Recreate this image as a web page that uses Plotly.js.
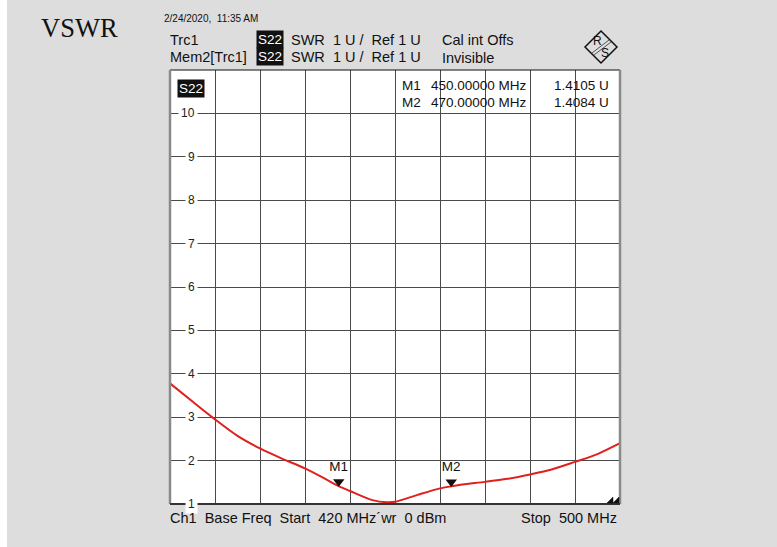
<!DOCTYPE html>
<html>
<head>
<meta charset="utf-8">
<script src="https://cdn.plot.ly/plotly-3.0.1.min.js"></script>
<style>
  html, body { margin: 0; padding: 0; background: #dddddd; }
  #chart { width: 777px; height: 547px; }
</style>
</head>
<body>
<div id="chart"></div>
<script>
// ---- Data ----
const freqMHz = [420, 424, 428, 432, 436, 440, 444, 448, 450, 452, 456, 458.5, 460, 464, 468, 470, 472, 476, 480, 484, 488, 492, 496, 500];
const vswr    = [3.78, 3.36, 2.95, 2.57, 2.28, 2.04, 1.82, 1.55, 1.41, 1.30, 1.09, 1.04, 1.05, 1.21, 1.36, 1.408, 1.45, 1.51, 1.58, 1.68, 1.80, 1.97, 2.15, 2.40];

const markerNames = ["M1", "M2"];
const markerFreq  = [450, 470];
const markerVal   = [1.4105, 1.4084];
const markerFreqText = ["450.00000 MHz", "470.00000 MHz"];
const markerValText  = ["1.4105 U", "1.4084 U"];

const yTickVals   = [1, 2, 3, 4, 5, 6, 7, 8, 9, 10];
const yTickLabels = ["1", "2", "3", "4", "5", "6", "7", "8", "9", "10"];

const xRange = [420, 500];
const yRange = [1, 11];

// ---- Layout helpers (pixel -> paper) ----
const L = 170, R = 620, T = 70, B = 504;
const px = x => (x - L) / (R - L);
const py = y => (B - y) / (B - T);
const FONT = "Liberation Sans, Arial, sans-serif";

function txt(text, x, y, opts = {}) {
  return Object.assign({
    text: text, xref: "paper", yref: "paper", x: px(x), y: py(y),
    xanchor: "left", yanchor: "middle", showarrow: false,
    font: { family: FONT, size: 14.5, color: "#111111" }
  }, opts);
}
const boxFont = { family: FONT, size: 13.5, color: "#ffffff" };

const annotations = [];
// Title & header
annotations.push(txt("VSWR", 39, 28, { font: { family: "Liberation Serif, Times New Roman, serif", size: 26.5, color: "#111111" } }));
annotations.push(txt("2/24/2020,  11:35 AM", 162, 18, { font: { family: FONT, size: 10, color: "#111111" } }));
annotations.push(txt("Trc1", 168, 40));
annotations.push(txt("Mem2[Trc1]", 168, 57));
annotations.push(txt("S22", 256, 40, { bgcolor: "#111111", borderpad: 1, font: boxFont }));
annotations.push(txt("S22", 256, 57, { bgcolor: "#111111", borderpad: 1, font: boxFont }));
annotations.push(txt("SWR  1 U /  Ref 1 U", 289, 40));
annotations.push(txt("SWR  1 U /  Ref 1 U", 289, 57));
annotations.push(txt("Cal int Offs", 440, 40));
annotations.push(txt("Invisible", 440, 58));

// In-plot labels
annotations.push(txt("S22", 177, 89, { bgcolor: "#111111", borderpad: 1, font: boxFont }));
markerNames.forEach((m, i) => {
  const yy = 86 + i * 17;
  annotations.push(txt(m, 400, yy, { font: { family: FONT, size: 13.5, color: "#111111" } }));
  annotations.push(txt(markerFreqText[i], 429, yy, { font: { family: FONT, size: 13.5, color: "#111111" } }));
  annotations.push(txt(markerValText[i], 611, yy, { xanchor: "right", font: { family: FONT, size: 13.5, color: "#111111" } }));
});

// Y tick labels inside the plot, breaking the grid line
yTickVals.forEach((v, i) => {
  annotations.push({
    text: yTickLabels[i], xref: "paper", yref: "y", x: px(198), y: v,
    xanchor: "right", yanchor: "middle", showarrow: false,
    bgcolor: "#ffffff", borderpad: 2,
    font: { family: FONT, size: 12, color: "#222222" }
  });
});

// Bottom line
annotations.push(txt("Ch1  Base Freq  Start  420 MHz\u00B4wr  0 dBm", 168, 518, { font: { family: FONT, size: 14.5, color: "#111111" } }));
annotations.push(txt("Stop  500 MHz", 619, 518, { xanchor: "right", font: { family: FONT, size: 14.5, color: "#111111" } }));

// R&S logo letters
annotations.push(txt("R", 597, 41, { xanchor: "center", font: { family: FONT, size: 12, color: "#111111" } }));
annotations.push(txt("S", 605, 53, { xanchor: "center", font: { family: FONT, size: 12, color: "#111111" } }));

const shapes = [
  // white strip at left edge of the picture
  { type: "rect", xref: "paper", yref: "paper", x0: px(0), x1: px(7), y0: py(547), y1: py(0),
    fillcolor: "#ffffff", line: { width: 0 }, layer: "below" },
  // plot frame
  { type: "line", xref: "paper", yref: "paper", x0: 0, x1: 1, y0: 1, y1: 1, line: { color: "#111111", width: 1 } },
  { type: "line", xref: "paper", yref: "paper", x0: 0, x1: 0, y0: 0, y1: 1, line: { color: "#8a8a8a", width: 2.5 } },
  { type: "line", xref: "paper", yref: "paper", x0: 1, x1: 1, y0: 0, y1: 1, line: { color: "#8a8a8a", width: 2.5 } },
  { type: "line", xref: "paper", yref: "paper", x0: 0, x1: 1, y0: 0, y1: 0, line: { color: "#333333", width: 2 } },
  // R&S diamond logo
  { type: "path", xref: "paper", yref: "paper",
    path: `M ${px(601)},${py(31)} L ${px(617)},${py(47)} L ${px(601)},${py(63)} L ${px(585)},${py(47)} Z`,
    line: { color: "#111111", width: 1.5 }, fillcolor: "rgba(0,0,0,0)" },
  { type: "line", xref: "paper", yref: "paper", x0: px(592), y0: py(53), x1: px(609), y1: py(40), line: { color: "#555555", width: 1 } },
  { type: "line", xref: "paper", yref: "paper", x0: px(594), y0: py(55), x1: px(611), y1: py(42), line: { color: "#555555", width: 1 } },
  // small corner symbols bottom-right
  { type: "path", xref: "paper", yref: "paper",
    path: `M ${px(607)},${py(503)} L ${px(613)},${py(497)} L ${px(613)},${py(503)} Z`,
    line: { color: "#111111", width: 0.5 }, fillcolor: "#111111" },
  { type: "path", xref: "paper", yref: "paper",
    path: `M ${px(613)},${py(503)} L ${px(619)},${py(497)} L ${px(619)},${py(503)} Z`,
    line: { color: "#111111", width: 0.5 }, fillcolor: "#111111" }
];

const traces = [
  {
    x: freqMHz, y: vswr, type: "scatter", mode: "lines",
    line: { color: "#e0201c", width: 2, shape: "spline", smoothing: 0.8 },
    hoverinfo: "skip", showlegend: false
  },
  {
    x: markerFreq, y: markerVal.map(v => v + 0.1), type: "scatter", mode: "markers+text",
    text: markerNames, textposition: "top center",
    textfont: { family: FONT, size: 13.5, color: "#111111" },
    marker: { symbol: "triangle-down", size: 10, color: "#111111" },
    hoverinfo: "skip", showlegend: false
  }
];

const layout = {
  width: 777, height: 547,
  margin: { l: L, r: 777 - R, t: T, b: 547 - B, pad: 0 },
  paper_bgcolor: "#dddddd",
  plot_bgcolor: "#ffffff",
  showlegend: false,
  xaxis: {
    range: xRange, tick0: 420, dtick: 8, showticklabels: false, ticks: "",
    showgrid: true, gridcolor: "#4a4a4a", gridwidth: 1, zeroline: false, showline: false
  },
  yaxis: {
    range: yRange, tick0: 1, dtick: 1, showticklabels: false, ticks: "",
    showgrid: true, gridcolor: "#4a4a4a", gridwidth: 1, zeroline: false, showline: false
  },
  annotations: annotations,
  shapes: shapes
};

Plotly.newPlot("chart", traces, layout, { staticPlot: true, displayModeBar: false });
</script>
</body>
</html>
